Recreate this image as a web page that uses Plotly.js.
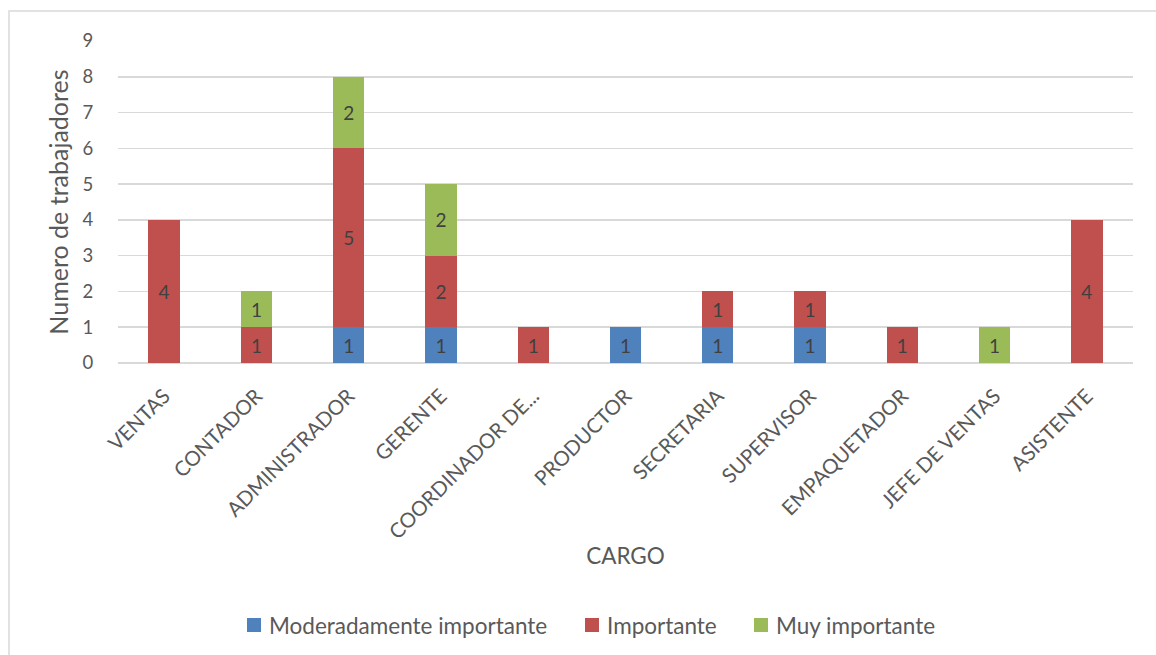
<!DOCTYPE html>
<html>
<head>
<meta charset="utf-8">
<script src="https://cdn.plot.ly/plotly-3.0.1.min.js"></script>
<style>
  html, body { margin: 0; padding: 0; background: #ffffff; }
  #chart { width: 1156px; height: 655px; }
</style>
</head>
<body>
<div id="chart"></div>
<script>
// Job positions (x axis categories)
const cargos = ['VENTAS', 'CONTADOR', 'ADMINISTRADOR', 'GERENTE', 'COORDINADOR DE...',
  'PRODUCTOR', 'SECRETARIA', 'SUPERVISOR', 'EMPAQUETADOR', 'JEFE DE VENTAS', 'ASISTENTE'];

// Number of workers per importance level
const moderadamente = [0, 0, 1, 1, 0, 1, 1, 1, 0, 0, 0];
const importante    = [4, 1, 5, 2, 1, 0, 1, 1, 1, 0, 4];
const muyImportante = [0, 1, 2, 2, 0, 0, 0, 0, 0, 1, 0];

const seriesNames = ['Moderadamente importante', 'Importante', 'Muy importante'];
const yTicks = [0, 1, 2, 3, 4, 5, 6, 7, 8, 9];

const FONT = 'Lato, "Open Sans", sans-serif';
const GREY = '#595959';
const COLORS = ['#4F81BD', '#C0504D', '#9BBB59'];

// Figure geometry (pixels)
const W = 1156, H = 655;
const M = { l: 118, r: 23, t: 41, b: 292 };
const plotW = W - M.l - M.r, plotH = H - M.t - M.b;
const px2x = px => (px - M.l) / plotW;
const py2y = py => (H - M.b - py) / plotH;

function barTrace(name, values, color) {
  return {
    type: 'bar',
    name: name,
    x: cargos,
    y: values,
    marker: { color: color, line: { width: 0 } },
    text: values.map(v => (v ? String(v) : '')),
    texttemplate: '%{text}',
    textposition: 'inside',
    insidetextanchor: 'middle',
    constraintext: 'none',
    textfont: { family: FONT, size: 19, color: '#404040' },
    hoverinfo: 'x+y+name'
  };
}

const seriesValues = [moderadamente, importante, muyImportante];
const data = seriesNames.map((n, i) => barTrace(n, seriesValues[i], COLORS[i]));

// Legend row below the axis title: colour square followed by the series name
const legendTextLeft = [267, 605, 774];
const legendCenterY = 625;
const legendShapes = [];
const legendNotes = [];
seriesNames.forEach((name, i) => {
  const left = legendTextLeft[i];
  legendShapes.push({
    type: 'rect', xref: 'paper', yref: 'paper',
    x0: px2x(left - 20), x1: px2x(left - 6),
    y0: py2y(legendCenterY + 7), y1: py2y(legendCenterY - 7),
    line: { width: 0 }, fillcolor: COLORS[i]
  });
  legendNotes.push({
    xref: 'paper', yref: 'paper',
    x: px2x(left), y: py2y(legendCenterY),
    xanchor: 'left', yanchor: 'middle',
    text: name, showarrow: false,
    font: { family: FONT, size: 22.5, color: GREY }
  });
});

const layout = {
  width: W,
  height: H,
  margin: M,
  paper_bgcolor: '#ffffff',
  plot_bgcolor: '#ffffff',
  barmode: 'stack',
  bargap: 0.66,
  font: { family: FONT, color: GREY },
  showlegend: false,
  xaxis: {
    type: 'category',
    tickangle: -45,
    tickfont: { family: FONT, size: 20.5, color: GREY },
    showgrid: false,
    showline: false,
    zeroline: false,
    ticks: 'outside',
    ticklen: 12,
    tickcolor: 'rgba(0,0,0,0)',
    title: { text: 'CARGO', font: { family: FONT, size: 22.5, color: GREY }, standoff: 6 }
  },
  yaxis: {
    range: [0, 9],
    tickvals: yTicks,
    ticktext: yTicks.map(String),
    tickfont: { family: FONT, size: 18.5, color: GREY },
    showgrid: true,
    gridcolor: '#d9d9d9',
    gridwidth: 1.5,
    zeroline: true,
    zerolinecolor: '#d9d9d9',
    zerolinewidth: 1.5,
    showline: false,
    ticks: 'outside',
    ticklen: 20,
    tickcolor: 'rgba(0,0,0,0)',
    title: { text: 'Numero de trabajadores', font: { family: FONT, size: 25, color: GREY }, standoff: 6 }
  },
  shapes: [{
    // outer chart frame
    type: 'rect',
    xref: 'paper', yref: 'paper',
    x0: px2x(9), x1: px2x(W + 20),
    y0: py2y(H + 20), y1: py2y(11),
    line: { color: '#d9d9d9', width: 1.5 },
    fillcolor: 'rgba(0,0,0,0)',
    layer: 'below'
  }].concat(legendShapes),
  annotations: legendNotes
};

Plotly.newPlot('chart', data, layout, { displayModeBar: false, staticPlot: true });
</script>
</body>
</html>
